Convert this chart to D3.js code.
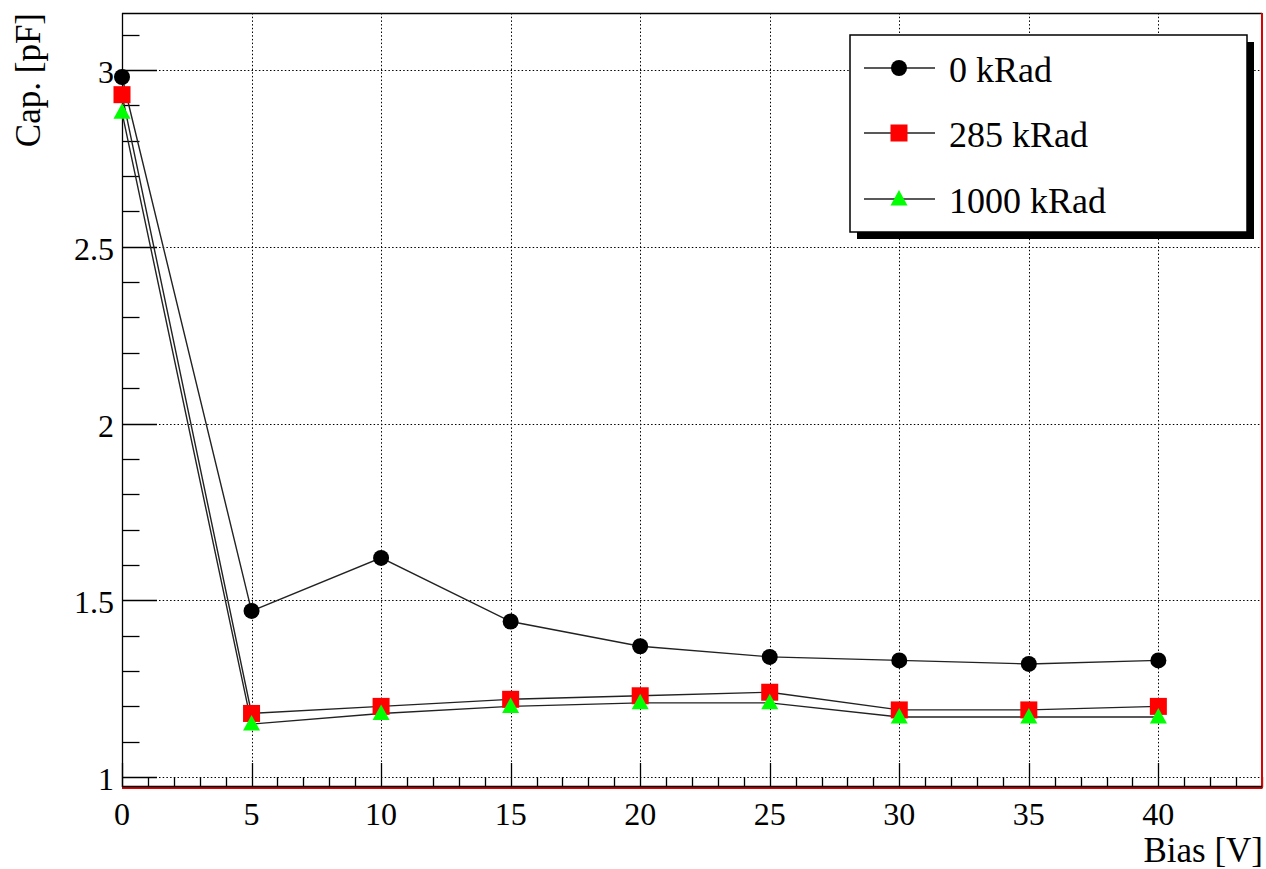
<!DOCTYPE html>
<html>
<head>
<meta charset="utf-8">
<script src="https://cdn.jsdelivr.net/npm/d3@7"></script>
<style>
  html, body { margin: 0; padding: 0; background: #fff; }
  svg { display: block; }
  text { font-family: "Liberation Serif", "Times New Roman", serif; fill: #000; }
</style>
</head>
<body>
<svg id="chart" width="1266" height="869"></svg>
<script>
// ---- data ----
const biasV = [0, 5, 10, 15, 20, 25, 30, 35, 40];
const cap0kRad = [2.98, 1.47, 1.62, 1.44, 1.37, 1.34, 1.33, 1.32, 1.33];
const cap285kRad = [2.93, 1.18, 1.20, 1.22, 1.23, 1.24, 1.19, 1.19, 1.20];
const cap1000kRad = [2.88, 1.15, 1.18, 1.20, 1.21, 1.21, 1.17, 1.17, 1.17];
const seriesNames = ["0 kRad", "285 kRad", "1000 kRad"];
const xTickValues = [0, 5, 10, 15, 20, 25, 30, 35, 40];
const yTickValues = [1, 1.5, 2, 2.5, 3];
const xTitle = "Bias [V]";
const yTitle = "Cap. [pF]";

const series = [
  { name: seriesNames[0], values: cap0kRad, marker: "circle", color: "#000000" },
  { name: seriesNames[1], values: cap285kRad, marker: "square", color: "#ff0000" },
  { name: seriesNames[2], values: cap1000kRad, marker: "triangle", color: "#00ff00" }
];

// ---- layout ----
const frame = { left: 122, right: 1262, top: 13, bottom: 787 };
const svg = d3.select("#chart");

const x = d3.scaleLinear().domain([0, 44]).range([frame.left, frame.right]);
const y = d3.scaleLinear().domain([0.972, 3.161]).range([frame.bottom, frame.top]);

// grid
const grid = svg.append("g").attr("stroke", "#000").attr("stroke-width", 1)
  .attr("stroke-dasharray", "1.5,2.2");
grid.selectAll("line.gx").data(xTickValues.filter(d => d > 0)).join("line")
  .attr("x1", d => Math.round(x(d)) + 0.5).attr("x2", d => Math.round(x(d)) + 0.5)
  .attr("y1", frame.top).attr("y2", frame.bottom);
grid.selectAll("line.gy").data(yTickValues).join("line")
  .attr("y1", d => Math.round(y(d)) + 0.5).attr("y2", d => Math.round(y(d)) + 0.5)
  .attr("x1", frame.left).attr("x2", frame.right);

// ticks
const tk = svg.append("g").attr("stroke", "#000").attr("stroke-width", 1.3);
const xMinor = d3.range(0, 44.001, 1);
tk.selectAll("line.xt").data(xMinor).join("line")
  .attr("x1", d => Math.round(x(d)) + 0.5).attr("x2", d => Math.round(x(d)) + 0.5)
  .attr("y1", frame.bottom)
  .attr("y2", d => frame.bottom - (d % 5 === 0 ? 24 : 10));
const yMinor = d3.range(1.0, 3.1501, 0.1).map(v => +v.toFixed(2));
tk.selectAll("line.yt").data(yMinor).join("line")
  .attr("y1", d => Math.round(y(d)) + 0.5).attr("y2", d => Math.round(y(d)) + 0.5)
  .attr("x1", frame.left)
  .attr("x2", d => frame.left + (Math.abs(d * 2 - Math.round(d * 2)) < 1e-6 ? 35 : 17.5));

// frame
svg.append("line").attr("x1", frame.left).attr("x2", frame.right)
  .attr("y1", frame.top + 0.5).attr("y2", frame.top + 0.5).attr("stroke", "#000").attr("stroke-width", 1.3);
svg.append("line").attr("x1", frame.right).attr("x2", frame.right)
  .attr("y1", frame.top).attr("y2", frame.bottom + 1.5).attr("stroke", "#e00000").attr("stroke-width", 2);
svg.append("line").attr("x1", frame.left).attr("x2", frame.right)
  .attr("y1", frame.bottom + 1).attr("y2", frame.bottom + 1).attr("stroke", "#e00000").attr("stroke-width", 2);
svg.append("line").attr("x1", frame.left).attr("x2", frame.right)
  .attr("y1", frame.bottom - 0.5).attr("y2", frame.bottom - 0.5).attr("stroke", "#000").attr("stroke-width", 1.3);
svg.append("line").attr("x1", frame.left + 0.5).attr("x2", frame.left + 0.5)
  .attr("y1", frame.top).attr("y2", frame.bottom).attr("stroke", "#000").attr("stroke-width", 1.3);

// tick labels
svg.append("g").selectAll("text").data(xTickValues).join("text")
  .attr("x", d => x(d)).attr("y", frame.bottom + 38)
  .attr("text-anchor", "middle").attr("font-size", 32)
  .text(d => d);
svg.append("g").selectAll("text").data(yTickValues).join("text")
  .attr("x", frame.left - 8).attr("y", d => y(d) + 13)
  .attr("text-anchor", "end").attr("font-size", 32)
  .text(d => d);

// axis titles
svg.append("text").attr("x", frame.right + 1).attr("y", 862)
  .attr("text-anchor", "end").attr("font-size", 35).text(xTitle);
svg.append("text").attr("transform", `translate(40,${frame.top}) rotate(-90)`)
  .attr("text-anchor", "end").attr("font-size", 35).text(yTitle);

// markers
function drawMarker(g, type, color) {
  if (type === "circle") {
    g.append("circle").attr("r", 8).attr("fill", color);
  } else if (type === "square") {
    g.append("rect").attr("x", -8.5).attr("y", -8.5).attr("width", 17).attr("height", 17).attr("fill", color);
  } else {
    g.append("path").attr("d", "M0,-9L8.5,6.5L-8.5,6.5Z").attr("fill", color);
  }
}

const line = d3.line().x((d, i) => x(biasV[i])).y(d => y(d));
const plot = svg.append("g");
series.forEach(s => {
  plot.append("path").attr("d", line(s.values)).attr("fill", "none")
    .attr("stroke", "#222").attr("stroke-width", 1.4);
});
series.forEach(s => {
  s.values.forEach((v, i) => {
    const g = plot.append("g").attr("transform", `translate(${x(biasV[i])},${y(v)})`);
    drawMarker(g, s.marker, s.color);
  });
});

// legend
const lg = { x: 850, y: 35, w: 397, h: 197 };
svg.append("rect").attr("x", lg.x + 7).attr("y", lg.y + 7).attr("width", lg.w).attr("height", lg.h).attr("fill", "#000");
svg.append("rect").attr("x", lg.x).attr("y", lg.y).attr("width", lg.w).attr("height", lg.h)
  .attr("fill", "#fff").attr("stroke", "#000").attr("stroke-width", 1.5);
const rowsY = [68, 133, 199];
series.forEach((s, i) => {
  const ry = rowsY[i];
  svg.append("line").attr("x1", 864).attr("x2", 935).attr("y1", ry).attr("y2", ry)
    .attr("stroke", "#222").attr("stroke-width", 1.4);
  const g = svg.append("g").attr("transform", `translate(899,${ry})`);
  drawMarker(g, s.marker, s.color);
  svg.append("text").attr("x", 949).attr("y", ry + 14).attr("font-size", 36).text(s.name);
});
</script>
</body>
</html>
